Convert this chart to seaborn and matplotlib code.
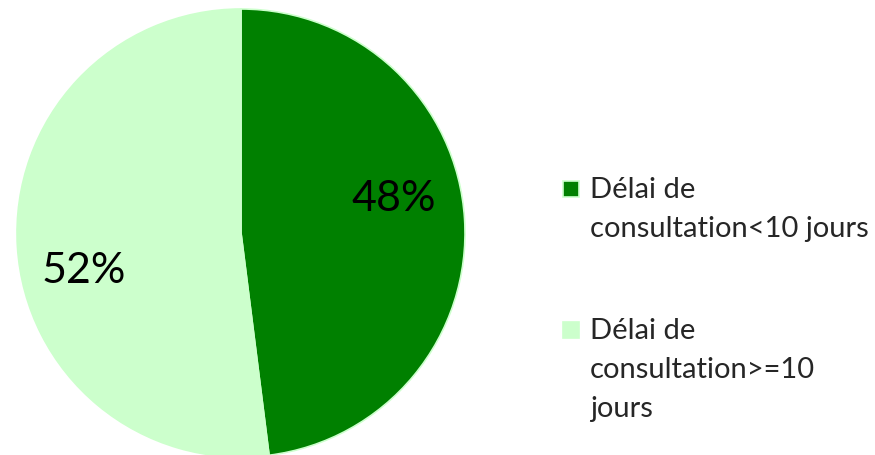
import matplotlib
matplotlib.use('Agg')
import matplotlib.pyplot as plt
from matplotlib.patches import Rectangle
import seaborn as sns

# Données
categories = ['Délai de\nconsultation<10 jours', 'Délai de\nconsultation>=10\njours']
valeurs = [48, 52]
couleurs = ['#008000', '#CCFFCC']

sns.set_style('white')
plt.rcParams['font.family'] = ['Lato', 'DejaVu Sans']

W, H = 875, 455
fig = plt.figure(figsize=(W / 100, H / 100), dpi=100)
ax = fig.add_axes([17 / W, -2 / H, 448 / W, 448 / H])

wedges, texts, autotexts = ax.pie(valeurs, colors=couleurs, startangle=90, counterclock=False,
                                  autopct='%1.0f%%', pctdistance=0.7,
                                  wedgeprops={'edgecolor': '#CCFFCC', 'linewidth': 1.2},
                                  textprops={'fontsize': 31, 'color': 'black'})
# position des pourcentages
autotexts[0].set_position((0.68, 0.15))
autotexts[1].set_position((-0.70, -0.17))
ax.set_xlim(-1, 1)
ax.set_ylim(-1, 1)
ax.set_aspect('equal')

# Légende (carré aligné sur la première ligne)
y_entree = [189, 330]
for cat, col, y0 in zip(categories, couleurs, y_entree):
    fig.patches.append(Rectangle((563 / W, 1 - (y0 + 8) / H), 16 / W, 16 / H,
                                 transform=fig.transFigure, facecolor=col, edgecolor='#CCFFCC',
                                 linewidth=1.2))
    for i, ligne in enumerate(cat.split('\n')):
        fig.text(590 / W, 1 - (y0 + 1 + 39 * i) / H, ligne, fontsize=21, va='center', ha='left')

plt.savefig('out.png', dpi=100)
